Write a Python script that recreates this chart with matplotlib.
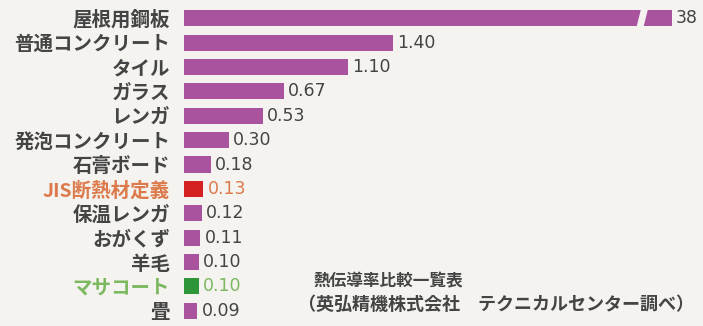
import matplotlib.pyplot as plt
from matplotlib.patches import Polygon

plt.rcParams['font.family'] = ['Noto Sans CJK JP', 'DejaVu Sans']

materials = ['屋根用鋼板', '普通コンクリート', 'タイル', 'ガラス', 'レンガ', '発泡コンクリート',
             '石膏ボード', 'JIS断熱材定義', '保温レンガ', 'おがくず', '羊毛', 'マサコート', '畳']
conductivity = [38, 1.40, 1.10, 0.67, 0.53, 0.30, 0.18, 0.13, 0.12, 0.11, 0.10, 0.10, 0.09]
value_labels = ['38', '1.40', '1.10', '0.67', '0.53', '0.30', '0.18', '0.13', '0.12', '0.11',
                '0.10', '0.10', '0.09']
title_lines = ['熱伝導率比較一覧表', '（英弘精機株式会社　テクニカルセンター調べ）']

bg = '#f4f3ef'
bar_color = '#a9529d'
text_color = '#444444'
special_bar = {'JIS断熱材定義': '#d42222', 'マサコート': '#2e9638'}
special_text = {'JIS断熱材定義': '#dc7a4c', 'マサコート': '#7cb860'}

W, H = 703, 326
fig = plt.figure(figsize=(W / 100, H / 100), dpi=100, facecolor=bg)

x0, xbreak, xend = 184, 640, 672
top, bottom = 6, 323
ax1 = fig.add_axes([x0 / W, 1 - bottom / H, (xbreak - x0) / W, (bottom - top) / H])
ax2 = fig.add_axes([xbreak / W, 1 - bottom / H, (xend - xbreak) / W, (bottom - top) / H])

colors = [special_bar.get(m, bar_color) for m in materials]
pos = list(range(len(materials)))
px_per_unit = 149
for ax in (ax1, ax2):
    ax.barh(pos, conductivity, height=0.66, color=colors, linewidth=0)
    ax.set_ylim(len(materials) - 0.5, -0.5)
    ax.set_facecolor(bg)
    for s in ax.spines.values():
        s.set_visible(False)
    ax.tick_params(length=0)
    ax.set_xticks([])

ax1.set_xlim(0, (xbreak - x0) / px_per_unit)
ax2.set_xlim(38 - (xend - xbreak) / 160, 38)

ax1.set_yticks(pos)
ax1.set_yticklabels(materials, fontsize=14, fontweight='bold')
ax1.tick_params(axis='y', pad=10)
for lbl, m in zip(ax1.get_yticklabels(), materials):
    lbl.set_color(special_text.get(m, text_color))
ax2.set_yticks([])

# value labels; the large value goes on the right-hand segment
for i, (v, s, m) in enumerate(zip(conductivity, value_labels, materials)):
    ax = ax2 if v > ax1.get_xlim()[1] else ax1
    ax.annotate(s, (v, i), xytext=(3, 0), textcoords='offset points', va='center', ha='left',
                fontsize=12.5, family='DejaVu Sans', color=special_text.get(m, text_color),
                annotation_clip=False)

# slanted cut marking the axis break
cy, ch = 19, 20
xb = xbreak - 3
cut = [(xb - 1, cy + ch / 2), (xb + 6, cy + ch / 2), (xb + 11, cy - ch / 2), (xb + 4, cy - ch / 2)]
fig.patches.append(Polygon([(x / W, 1 - y / H) for x, y in cut], closed=True,
                           transform=fig.transFigure, facecolor=bg, edgecolor='none', zorder=5))

fig.text(313 / W, 1 - 281 / H, title_lines[0], fontsize=12, fontweight='bold', color=text_color, va='center')
fig.text(298 / W, 1 - 304 / H, title_lines[1], fontsize=13, fontweight='bold', color=text_color, va='center')

fig.savefig('out.png', dpi=100, facecolor=bg)
